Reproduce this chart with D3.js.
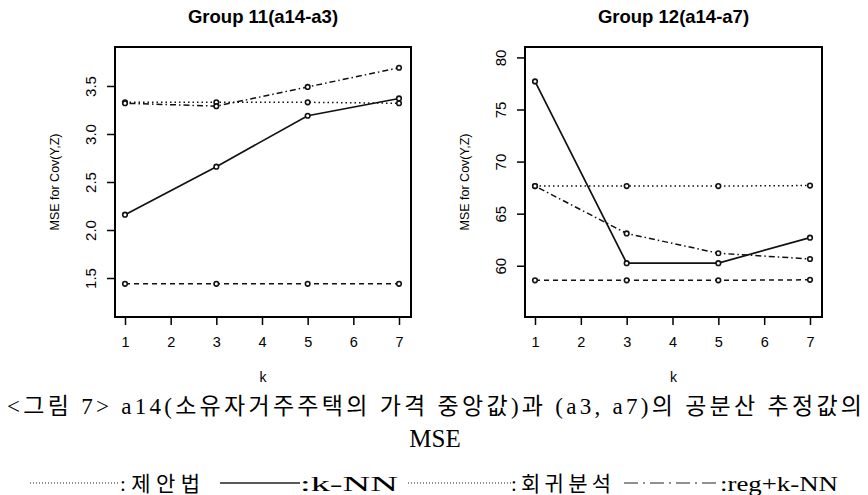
<!DOCTYPE html>
<html>
<head>
<meta charset="utf-8">
<script src="https://cdn.jsdelivr.net/npm/d3@7"></script>
<style>
  body { margin: 0; background: #fff; }
  svg { display: block; }
</style>
</head>
<body>
<div id="chart"></div>
<script>
// k values and MSE series
var ks = [1, 3, 5, 7];
var xTicks = [1, 2, 3, 4, 5, 6, 7];

var g11Proposed = [3.33, 3.33, 3.33, 3.32];
var g11Knn = [2.16, 2.66, 3.19, 3.37];
var g11Reg = [1.44, 1.44, 1.44, 1.44];
var g11RegKnn = [3.32, 3.29, 3.49, 3.69];
var g11Ticks = [1.5, 2.0, 2.5, 3.0, 3.5];

var g12Proposed = [67.65, 67.65, 67.65, 67.7];
var g12Knn = [77.7, 60.25, 60.25, 62.7];
var g12Reg = [58.6, 58.6, 58.6, 58.65];
var g12RegKnn = [67.65, 63.1, 61.2, 60.65];
var g12Ticks = [60, 65, 70, 75, 80];

var seriesNames = ["제안법", "k-NN", "회귀분석", "reg+k-NN"];
var dashes = ["1.5 3", null, "5 4", "1.5 3 6 3"];

var captionLine1 = "<그림 7> a14(소유자거주주택의 가격 중앙값)과  (a3, a7)의 공분산 추정값의";
var captionLine2 = "MSE";

var W = 868, H = 495;
var svg = d3.select("#chart").append("svg")
    .attr("width", W).attr("height", H);

var panels = [
    { title: "Group 11(a14-a3)", left: 115, right: 411, yDomain: [1.094, 3.906],
      ticks: g11Ticks, fmt: d3.format(".1f"),
      series: [g11Proposed, g11Knn, g11Reg, g11RegKnn] },
    { title: "Group 12(a14-a7)", left: 525, right: 822, yDomain: [55.08, 81.0],
      ticks: g12Ticks, fmt: d3.format("d"),
      series: [g12Proposed, g12Knn, g12Reg, g12RegKnn] }
];

var plotTop = 47, plotBottom = 317;
var sans = "'Liberation Sans', Arial, sans-serif";

panels.forEach(function (p) {
    var x = d3.scaleLinear().domain([1, 7]).range([p.left + 10, p.right - 12]);
    var y = d3.scaleLinear().domain(p.yDomain).range([plotBottom, plotTop]);
    var g = svg.append("g");

    // title
    g.append("text")
        .attr("x", (p.left + p.right) / 2)
        .attr("y", 23)
        .attr("text-anchor", "middle")
        .style("font-family", sans)
        .style("font-weight", "bold")
        .style("font-size", "18.5px")
        .text(p.title);

    // x axis
    var xa = g.append("g")
        .attr("transform", "translate(0," + plotBottom + ")")
        .call(d3.axisBottom(x).tickValues(xTicks).tickSize(8).tickPadding(12).tickFormat(d3.format("d")));
    xa.select(".domain").remove();
    xa.selectAll("line").attr("stroke-width", 1.5);
    xa.selectAll("text")
        .style("font-family", sans)
        .style("font-size", "14.5px");

    // y axis, labels turned like R's las=0
    var ya = g.append("g")
        .attr("transform", "translate(" + p.left + ",0)")
        .call(d3.axisLeft(y).tickValues(p.ticks).tickSize(8).tickFormat(p.fmt));
    ya.select(".domain").remove();
    ya.selectAll("line").attr("stroke-width", 1.5);
    ya.selectAll("text")
        .attr("x", null).attr("dy", null)
        .attr("transform", "translate(-25,0) rotate(-90)")
        .attr("text-anchor", "middle")
        .attr("dominant-baseline", "central")
        .style("font-family", sans)
        .style("font-size", "15px");

    // box
    g.append("rect")
        .attr("x", p.left).attr("y", plotTop)
        .attr("width", p.right - p.left).attr("height", plotBottom - plotTop)
        .attr("fill", "none").attr("stroke", "#000").attr("stroke-width", 2);

    // axis titles
    g.append("text")
        .attr("x", (p.left + p.right) / 2)
        .attr("y", 382)
        .attr("text-anchor", "middle")
        .style("font-family", sans)
        .style("font-size", "14px")
        .text("k");
    g.append("text")
        .attr("transform", "translate(" + (p.left - 60) + "," + ((plotTop + plotBottom) / 2) + ") rotate(-90)")
        .attr("text-anchor", "middle")
        .attr("dominant-baseline", "central")
        .style("font-family", sans)
        .style("font-size", "12.5px")
        .text("MSE for Cov(Y,Z)");

    // lines and points
    var line = d3.line()
        .x(function (d, i) { return x(ks[i]); })
        .y(function (d) { return y(d); });

    p.series.forEach(function (s, si) {
        g.append("path")
            .datum(s)
            .attr("d", line)
            .attr("fill", "none")
            .attr("stroke", "#111")
            .attr("stroke-width", si == 1 ? 1.7 : 1.5)
            .attr("stroke-dasharray", dashes[si]);
        g.selectAll(null)
            .data(s)
            .enter()
            .append("circle")
            .attr("cx", function (d, i) { return x(ks[i]); })
            .attr("cy", function (d) { return y(d); })
            .attr("r", 2.3)
            .attr("fill", "#fff")
            .attr("stroke", "#111")
            .attr("stroke-width", 1.6);
    });
});

// caption
var serif = "'Liberation Serif', 'Times New Roman', 'Noto Sans CJK KR', serif";
svg.append("text")
    .attr("x", 7).attr("y", 414)
    .attr("textLength", 855)
    .attr("lengthAdjust", "spacing")
    .style("font-family", serif)
    .style("font-size", "23px")
    .text(captionLine1);
svg.append("text")
    .attr("x", 435).attr("y", 447)
    .attr("text-anchor", "middle")
    .style("font-family", serif)
    .style("font-size", "25px")
    .text(captionLine2);

// legend
var legendX = [30, 220, 408, 624];
var legendLen = [90, 80, 103, 96];
var legendTextLen = [80, 98, 100, 118];
var legendDash = ["1 2", null, "1 2", "14 5 2 5"];
var ly = 483;
seriesNames.forEach(function (name, i) {
    svg.append("line")
        .attr("x1", legendX[i]).attr("x2", legendX[i] + legendLen[i])
        .attr("y1", ly).attr("y2", ly)
        .attr("stroke", "#222")
        .attr("stroke-width", i == 1 ? 1.3 : 1)
        .attr("stroke-dasharray", legendDash[i]);
    var latin = (i == 1 || i == 3);
    svg.append("text")
        .attr("x", legendX[i] + legendLen[i])
        .attr("y", 491)
        .attr("textLength", legendTextLen[i])
        .attr("lengthAdjust", latin ? "spacingAndGlyphs" : "spacing")
        .style("font-family", serif)
        .style("font-size", "21px")
        .text(":" + name);
});
</script>
</body>
</html>
